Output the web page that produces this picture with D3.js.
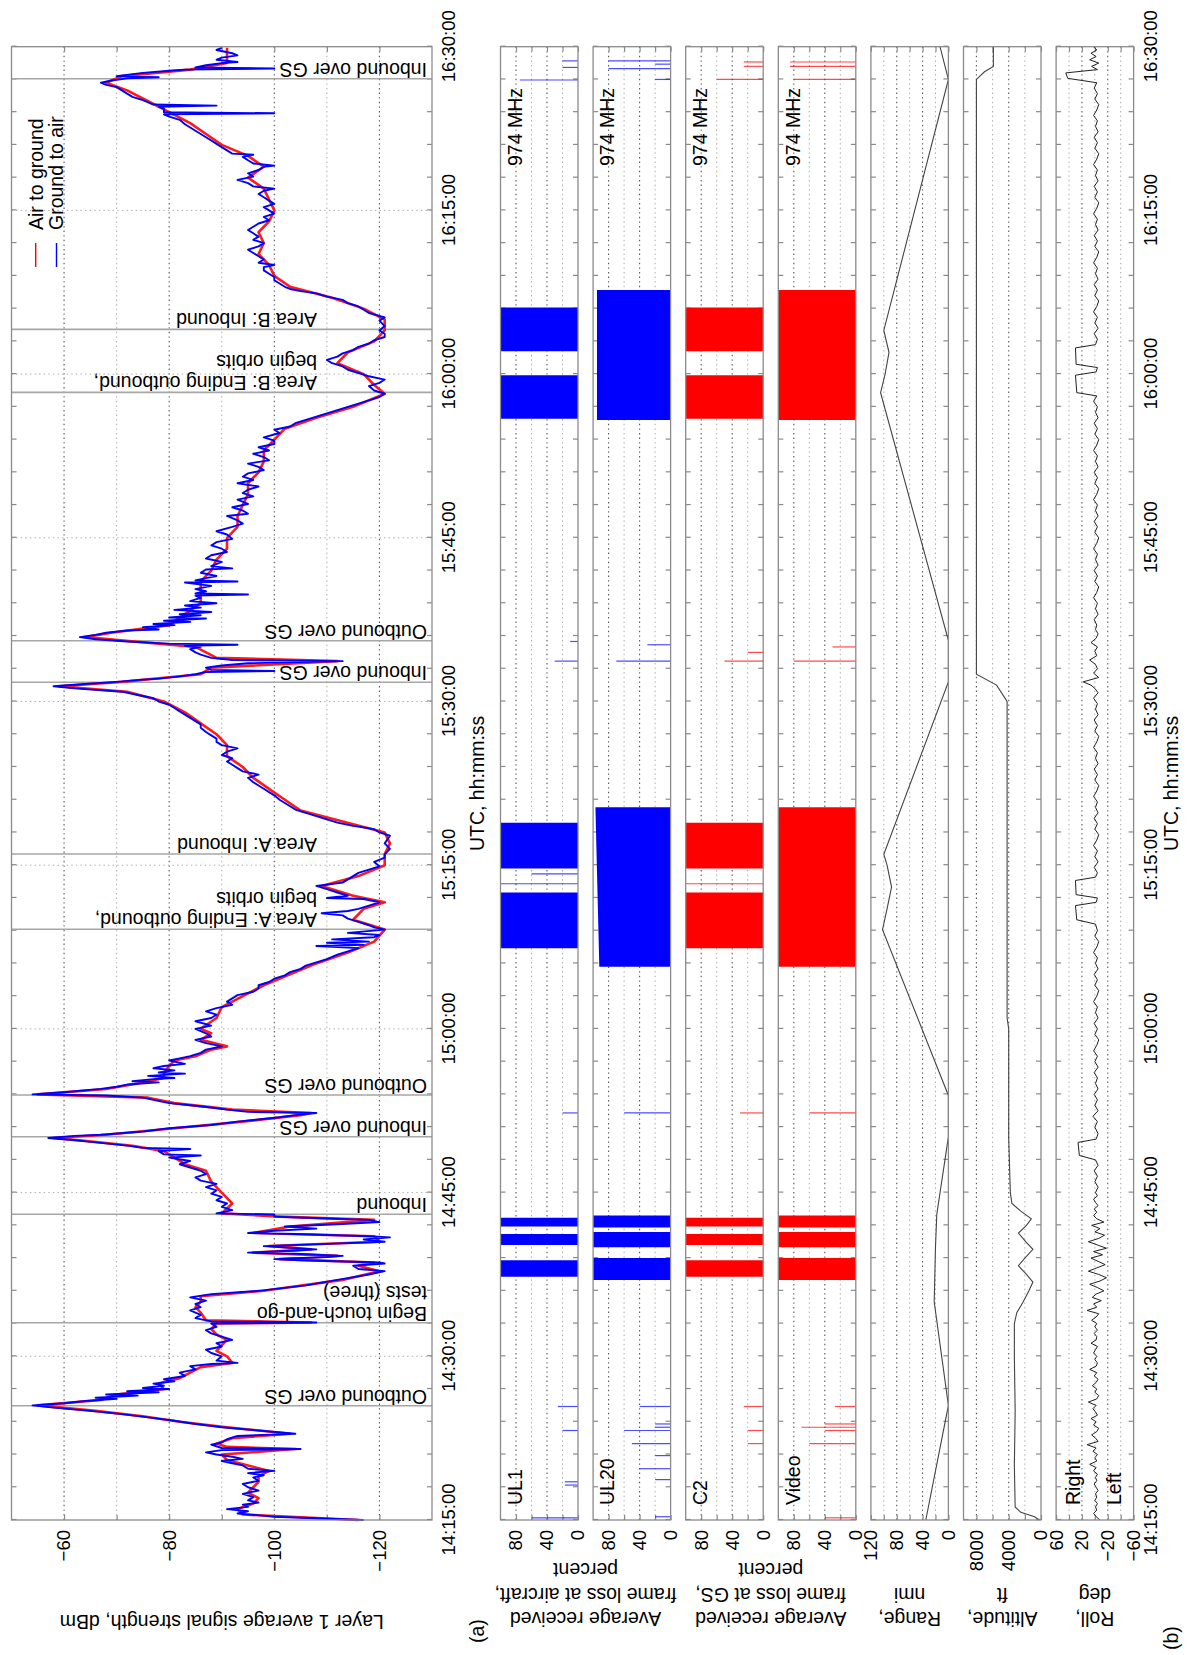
<!DOCTYPE html>
<html lang="en">
<head>
<meta charset="UTF-8">
<title>layer 1 signal strength and frame loss</title>
<script src="https://d3js.org/d3.v7.min.js"></script>
<style>
    body { margin: 0; background: #fff; }
    svg { display: block; font-family: "Liberation Sans", Arial, Helvetica, sans-serif; }
    .box { fill: none; stroke: #8a8a8a; stroke-width: 1.3; }
    .tick line { stroke: #8a8a8a; stroke-width: 1.2; }
    .tick text { font-size: 18.5px; fill: #000; }
    .grid-major { stroke: #555; stroke-dasharray: 1.4 3.2; stroke-width: 1.1; }
    .grid-minor { stroke: #aaa; stroke-dasharray: 1.4 3.2; stroke-width: 1; }
    .event { stroke: #a6a6a6; stroke-width: 1.6; }
    .label { font-size: 19.5px; fill: #000; }
</style>
</head>
<body>
<div id="chart"></div>
<script>
// time is in minutes after 14:15:00 UTC
const timeLabels = ['14:15:00', '14:30:00', '14:45:00', '15:00:00', '15:15:00', '15:30:00', '15:45:00', '16:00:00', '16:15:00', '16:30:00']

// layer 1 average signal strength, dBm
const groundToAir = [[0,-117],[0.3,-100],[0.6,-93],[0.8,-95],[1,-91],[1.2,-95],[1.4,-94],[1.6,-97],[1.8,-95],[2.1,-96],[2.4,-94],[2.7,-97],[3,-95],[3.3,-94],[3.6,-97],[3.9,-96],[4.1,-98],[4.3,-95],[4.5,-100],[4.7,-95],[5,-94],[5.2,-92],[5.4,-90],[5.6,-94],[5.8,-92],[6,-89],[6.2,-87],[6.4,-90],[6.5,-105],[6.6,-90],[6.9,-88],[7.1,-90],[7.4,-91],[7.7,-93],[7.8,-98],[7.9,-104],[8.2,-97],[8.5,-90],[8.8,-85],[9.1,-81],[9.4,-76],[9.7,-71],[10,-65],[10.3,-58],[10.5,-54],[10.7,-60],[10.9,-64],[11.1,-70],[11.2,-66],[11.4,-74],[11.5,-68],[11.7,-78],[11.8,-72],[12,-80],[12.1,-75],[12.3,-79],[12.5,-77],[12.7,-81],[12.9,-79],[13.2,-83],[13.5,-82],[13.8,-85],[14.1,-84],[14.3,-88],[14.4,-93],[14.6,-89],[15,-90],[15.3,-88],[15.6,-87],[15.9,-90],[16.2,-89],[16.5,-92],[16.8,-90],[17.1,-88],[17.4,-87],[17.7,-89],[18,-88],[18.1,-108],[18.2,-88],[18.5,-85],[18.8,-86],[19.2,-84],[19.5,-86],[19.8,-85],[20.1,-87],[20.4,-84],[20.7,-88],[21,-97],[21.5,-106],[22,-112],[22.5,-118],[22.8,-121],[23,-116],[23.3,-115],[23.5,-121],[23.6,-120],[23.8,-105],[23.9,-100],[24.1,-110],[24.2,-113],[24.4,-104],[24.5,-95],[24.7,-104],[24.8,-108],[25,-101],[25.1,-98],[25.3,-110],[25.5,-121],[25.7,-117],[25.9,-122],[26,-118],[26.2,-104],[26.3,-95],[26.5,-100],[26.7,-108],[26.9,-102],[27.1,-112],[27.3,-120],[27.5,-118],[27.7,-106],[27.8,-100],[28,-100],[28.1,-89],[28.4,-92],[28.7,-90],[29,-91],[29.3,-89],[29.6,-90],[29.9,-88],[30.2,-89],[30.5,-87],[30.8,-89],[31.1,-86],[31.4,-85],[31.7,-87],[32,-86],[32.3,-84],[32.6,-82],[32.9,-84],[33.2,-80],[33.4,-86],[33.5,-79],[33.8,-78],[34,-84],[34.1,-75],[34.3,-72],[34.6,-66],[34.8,-62],[35,-57],[35.2,-62],[35.3,-67],[35.6,-75],[35.9,-80],[36.2,-88],[36.5,-93],[36.7,-97],[36.9,-101],[37.1,-104],[37.3,-108],[37.4,-95],[37.6,-91],[37.8,-88],[38,-84],[38.2,-80],[38.5,-77],[38.7,-75],[38.9,-68],[39,-54],[39.2,-60],[39.5,-67],[39.7,-70],[39.9,-72],[40.1,-78],[40.2,-73],[40.4,-77],[40.5,-81],[40.7,-76],[40.9,-83],[41,-78],[41.2,-81],[41.4,-77],[41.6,-79],[41.8,-83],[42.1,-80],[42.3,-82],[42.5,-84],[42.8,-86],[43.1,-87],[43.4,-90],[43.7,-87],[44,-85],[44.3,-88],[44.6,-87],[45,-85],[45.3,-88],[45.7,-85],[46,-88],[46.3,-89],[46.6,-87],[46.9,-89],[47.2,-92],[47.5,-91],[47.8,-92],[48.1,-93],[48.4,-96],[48.7,-97],[49,-97],[49.3,-99],[49.6,-100],[49.9,-102],[50.2,-103],[50.5,-105],[50.8,-106],[51.1,-108],[51.4,-110],[51.8,-112],[52.1,-114],[52.4,-116],[52.6,-108],[52.7,-117],[52.9,-110],[53,-118],[53.2,-111],[53.4,-119],[53.6,-120],[53.8,-114],[54.1,-121],[54.3,-119],[54.5,-118],[54.8,-116],[55.1,-114],[55.4,-113],[55.6,-109],[55.8,-114],[56,-116],[56.3,-118],[56.6,-120],[56.9,-117],[57,-110],[57.2,-114],[57.5,-112],[57.8,-110],[58.1,-108],[58.4,-113],[58.7,-114],[59,-115],[59.3,-116],[59.6,-118],[59.9,-120],[60.3,-119],[60.7,-121],[61,-121],[61.5,-122],[62,-121],[62.7,-122],[63,-120],[63.3,-119],[63.6,-115],[63.9,-112],[64.2,-110],[64.5,-108],[64.8,-106],[65.1,-104],[65.4,-103],[65.7,-102],[66,-101],[66.4,-100],[66.7,-99],[67,-98],[67.3,-97],[67.6,-96],[68,-95],[68.3,-97],[68.6,-94],[68.9,-93],[69.2,-92],[69.5,-91],[69.8,-92],[70.1,-90],[70.4,-91],[70.7,-93],[71,-90],[71.3,-89],[71.6,-89],[71.9,-88],[72.2,-87],[72.6,-86],[72.9,-86],[73.2,-85],[73.5,-84],[73.8,-83],[74.1,-82],[74.4,-81],[74.7,-80],[75,-78],[75.3,-77],[75.6,-74],[75.9,-71],[76.2,-62],[76.4,-58],[76.6,-64],[76.8,-70],[77,-75],[77.1,-78],[77.3,-82],[77.5,-85],[77.7,-87],[77.8,-100],[77.9,-88],[78.1,-87],[78.3,-90],[78.5,-95],[78.7,-113],[78.8,-92],[79,-88],[79.3,-86],[79.5,-85],[79.8,-84],[80,-86],[80.1,-83],[80.2,-93],[80.3,-80],[80.5,-72],[80.7,-66],[80.9,-63],[81.1,-66],[81.3,-68],[81.5,-72],[81.6,-78],[81.8,-75],[82,-81],[82.1,-77],[82.3,-84],[82.4,-79],[82.6,-87],[82.7,-80],[82.9,-86],[83,-82],[83.2,-88],[83.4,-81],[83.6,-86],[83.8,-83],[84,-89],[84.2,-84],[84.5,-86],[84.7,-85],[84.8,-95],[84.9,-85],[85.1,-87],[85.3,-85],[85.6,-88],[85.9,-83],[86,-93],[86.1,-85],[86.3,-87],[86.5,-89],[86.8,-86],[87.1,-87],[87.2,-92],[87.4,-88],[87.8,-90],[88.1,-87],[88.4,-88],[88.7,-91],[89,-90],[89.3,-88],[89.6,-89],[89.9,-92],[90.3,-91],[90.6,-89],[91,-92],[91.3,-94],[91.6,-93],[92,-91],[92.2,-95],[92.5,-94],[92.8,-92],[93.1,-95],[93.5,-93],[93.8,-96],[94.1,-94],[94.4,-95],[94.7,-97],[95,-93],[95.3,-96],[95.6,-94],[95.9,-95],[96.2,-98],[96.5,-97],[96.8,-95],[97.1,-99],[97.4,-98],[97.7,-96],[98,-99],[98.3,-97],[98.6,-100],[98.9,-100],[99.2,-98],[99.6,-101],[99.9,-100],[100.2,-103],[100.5,-104],[100.8,-106],[101.1,-108],[101.4,-110],[101.7,-112],[102,-114],[102.3,-116],[102.6,-118],[102.9,-120],[103.2,-121],[103.5,-119],[103.9,-118],[104.2,-120],[104.5,-121],[104.8,-118],[105.1,-116],[105.4,-114],[105.7,-113],[106,-111],[106.3,-110],[106.6,-112],[106.9,-113],[107.2,-115],[107.5,-116],[107.8,-118],[108.1,-119],[108.4,-121],[108.7,-121],[109,-120],[109.4,-121],[109.9,-120],[110.2,-121],[110.6,-118],[110.9,-117],[111.2,-116],[111.5,-114],[111.8,-113],[112.1,-110],[112.4,-108],[112.6,-105],[112.8,-103],[113,-102],[113.3,-101],[113.6,-100],[113.9,-100],[114.2,-99],[114.5,-98],[114.8,-98],[115,-100],[115.2,-97],[115.5,-98],[115.8,-97],[116.1,-96],[116.4,-95],[116.7,-97],[117,-98],[117.3,-96],[117.6,-97],[117.9,-96],[118.2,-95],[118.5,-96],[118.8,-97],[119.1,-99],[119.4,-98],[119.7,-100],[120,-99],[120.3,-98],[120.6,-100],[120.9,-99],[121.2,-98],[121.5,-97],[121.8,-98],[122,-100],[122.2,-96],[122.5,-95],[122.8,-93],[123.1,-96],[123.4,-95],[123.7,-97],[124,-98],[124.1,-100],[124.3,-96],[124.6,-95],[124.9,-94],[125.1,-96],[125.2,-92],[125.5,-91],[125.8,-90],[126.1,-89],[126.4,-88],[126.7,-87],[127,-86],[127.3,-85],[127.6,-84],[127.9,-83],[128.3,-82],[128.6,-80],[128.8,-79],[128.9,-100],[129,-79],[129.3,-79],[129.5,-78],[129.6,-89],[129.7,-77],[130.1,-75],[130.4,-73],[130.7,-72],[131,-71],[131.3,-70],[131.5,-68],[131.7,-67],[131.9,-69],[132.1,-72],[132.2,-78],[132.3,-70],[132.6,-75],[132.8,-80],[132.9,-83],[133,-100],[133.1,-85],[133.3,-87],[133.5,-90],[133.6,-93],[133.8,-89],[134,-90],[134.2,-93],[134.4,-92],[134.7,-89],[134.9,-90]]

const airToGround = [[0,-116],[0.5,-94],[1,-93],[1.5,-96],[2,-97],[2.5,-95],[3,-96],[3.5,-97],[4,-97],[4.5,-99],[5,-95],[5.5,-91],[6,-90],[6.5,-104],[6.7,-91],[7,-89],[7.5,-92],[7.9,-103],[8.5,-91],[9,-82],[9.5,-75],[10,-66],[10.5,-55],[11,-67],[11.5,-70],[12,-79],[12.5,-78],[13,-82],[13.5,-84],[14,-86],[14.4,-92],[15,-91],[15.5,-89],[16,-90],[16.5,-91],[17,-89],[17.5,-88],[18,-89],[18.1,-107],[18.3,-87],[19,-86],[19.5,-85],[20,-86],[20.5,-86],[21,-98],[22,-113],[22.8,-120],[23.3,-116],[23.6,-119],[23.9,-101],[24.2,-112],[24.5,-96],[24.8,-107],[25.1,-99],[25.5,-120],[26,-119],[26.3,-96],[26.9,-103],[27.5,-119],[27.8,-101],[28.1,-90],[29,-92],[30,-90],[31,-88],[32,-87],[32.6,-83],[33.2,-81],[33.8,-79],[34.3,-73],[34.8,-63],[35,-58],[35.3,-68],[35.9,-81],[36.5,-94],[37.1,-105],[37.3,-107],[37.6,-92],[38.2,-81],[38.7,-76],[39,-55],[39.5,-68],[40,-74],[40.5,-79],[41,-79],[41.6,-80],[42.1,-81],[42.5,-85],[43.1,-88],[43.4,-91],[44,-86],[44.6,-88],[45,-86],[46,-89],[47,-90],[48,-94],[49,-98],[50,-103],[51,-108],[52,-114],[53,-119],[54.1,-121],[55,-115],[56,-117],[56.6,-121],[57.2,-115],[58.1,-109],[59,-116],[60,-121],[61,-121],[62,-122],[63,-121],[64,-113],[65,-105],[66,-102],[67,-99],[68,-96],[69,-94],[70,-91],[71,-91],[72,-89],[73,-86],[74,-83],[75,-79],[75.9,-72],[76.4,-59],[76.8,-71],[77.5,-86],[78.1,-88],[78.7,-112],[79,-89],[80,-85],[80.9,-64],[81.3,-69],[82,-80],[83,-83],[84,-86],[85,-86],[86,-86],[87,-88],[88,-89],[89,-91],[90,-91],[91,-93],[92,-93],[93,-94],[94,-95],[95,-95],[96,-97],[97,-98],[98,-98],[99,-100],[100,-102],[101,-108],[102,-115],[103.2,-121],[104,-119],[105,-117],[106,-112],[107,-114],[108,-119],[109,-121],[110,-121],[111,-117],[112,-111],[113,-103],[114,-100],[115,-99],[116,-97],[117,-98],[118,-97],[119,-99],[120,-100],[121,-99],[122,-98],[123,-95],[124,-98],[125,-95],[126,-90],[127,-87],[128,-84],[129,-80],[130,-76],[131,-72],[131.7,-68],[132.3,-71],[132.9,-84],[133.5,-91],[134,-91],[134.9,-91]]

// events marked in panel (a): [minute, label lines]
const gsEvents = [[10.47, ['Outbound over GS']], [18.08, ['Begin touch-and-go', 'tests (three)']], [28.01, ['Inbound']], [35.12, ['Inbound over GS']], [38.94, ['Outbound over GS']], [76.76, ['Inbound over GS']], [80.57, ['Outbound over GS']], [132.07, ['Inbound over GS']]]
const areaEvents = [[54.13, ['Area A: Ending outbound,', 'begin orbits']], [61.03, ['Area A: Inbound']], [103.33, ['Area B: Ending outbound,', 'begin orbits']], [109.1, ['Area B: Inbound']]]

// average received frame loss, percent: blocks [from, to, % at from, % at to] and single samples [minute, %]
const ul1Blocks = [[22.3, 23.8, 100, 100], [25.2, 26.2, 100, 100], [26.9, 27.7, 100, 100], [52.4, 57.5, 100, 100], [59.7, 63.9, 100, 100], [100.9, 104.9, 100, 100], [107.1, 111.1, 100, 100]]
const ul1Spikes = [[0.2, 60], [3.2, 17], [3.5, 17], [8.2, 20], [10.4, 26], [37.3, 20], [58.3, 100], [59.2, 60], [78.7, 30], [80.5, 10], [131.95, 75], [133.1, 20], [133.7, 20]]
const ul20Blocks = [[22, 24, 100, 100], [25, 26.4, 100, 100], [26.8, 27.9, 100, 100], [50.7, 65.3, 92, 97], [100.8, 112.7, 95, 95]]
const ul20Spikes = [[0.3, 20], [3.7, 20], [4.7, 40], [5.9, 20], [7, 50], [8.2, 60], [8.5, 20], [8.8, 20], [10.4, 40], [37.3, 60], [78.7, 70], [80.2, 30], [132, 20], [133, 80], [133.4, 20], [133.7, 80]]
const c2Blocks = [[22.3, 23.8, 100, 100], [25.2, 26.2, 100, 100], [26.9, 27.7, 100, 100], [52.4, 57.5, 100, 100], [59.7, 63.9, 100, 100], [100.9, 104.9, 100, 100], [107.1, 111.1, 100, 100]]
const c2Spikes = [[7, 20], [8.2, 20], [10.4, 25], [37.3, 30], [58.3, 100], [78.7, 50], [79.5, 20], [132, 60], [133.2, 25], [133.6, 25]]
const videoBlocks = [[22, 24, 100, 100], [25, 26.4, 100, 100], [26.8, 27.9, 100, 100], [50.7, 65.3, 100, 100], [100.8, 112.7, 100, 100]]
const videoSpikes = [[0.2, 40], [7, 60], [8.2, 40], [8.5, 70], [8.8, 40], [10.4, 27], [37.3, 60], [78.7, 80], [80, 30], [132, 80], [133.2, 85], [133.6, 85]]

// range, nmi
const range = [[0, 35], [10.5, 0], [20, 22], [25, 20], [28, 18], [35.1, 0], [38.9, 0], [54.1, 102], [56, 95], [58, 88], [60, 95], [61, 100], [76.8, 0], [80.6, 0], [103.3, 105], [105, 98], [107, 92], [109, 100], [132, 0], [135, 13]]
// altitude, ft
const altitude = [[0, 200], [0.3, 800], [0.7, 2500], [1.2, 3200], [5, 3300], [10, 3200], [15, 3300], [18, 3300], [19, 3000], [20, 2200], [21, 1500], [21.8, 1000], [22.5, 1800], [23.3, 2800], [24, 2000], [24.8, 1000], [25.5, 1900], [26.3, 2800], [27, 1800], [27.6, 1200], [28.3, 2500], [29, 3600], [30, 3800], [35, 4000], [45, 4000], [46, 4200], [75, 4200], [76.5, 5500], [77.5, 8000], [132, 8000], [132.7, 7000], [133.2, 5900], [135, 5900]]
// roll, deg
const roll = [[0,-8],[0.3,-2],[0.6,2],[0.9,-3],[1.2,-1],[1.5,-4],[1.8,0],[2.1,-3],[2.4,-1],[2.7,-5],[3,-2],[3.3,1],[3.6,-3],[3.9,-1],[4.2,-4],[4.5,2],[4.8,-2],[5.1,8],[5.4,-3],[5.7,0],[6,-4],[6.3,3],[6.6,-2],[6.9,12],[7.2,-5],[7.5,-1],[7.8,5],[8.1,-3],[8.4,-6],[8.7,2],[9,-2],[9.3,6],[9.6,-4],[9.9,-1],[10.2,3],[10.5,-2],[10.8,10],[11.1,-3],[11.4,-6],[11.7,0],[12,-3],[12.3,4],[12.6,-2],[12.9,-5],[13.2,1],[13.5,-3],[13.8,8],[14.1,-2],[14.4,-4],[14.7,0],[15,-3],[15.3,2],[15.6,-1],[15.9,-4],[16.2,6],[16.5,-2],[16.8,-3],[17.1,1],[17.4,-4],[17.7,0],[18,-3],[18.3,5],[18.6,-2],[18.9,-6],[19.2,12],[19.5,-3],[19.8,2],[20.1,-10],[20.4,4],[20.7,-2],[21,-14],[21.3,-4],[21.6,8],[21.9,-8],[22.2,-18],[22.5,-6],[22.8,10],[23.1,-3],[23.4,-16],[23.7,-5],[24,6],[24.3,-12],[24.6,2],[24.9,-18],[25.2,-4],[25.5,10],[25.8,-6],[26.1,-15],[26.4,0],[26.7,-8],[27,5],[27.3,-14],[27.6,-3],[27.9,2],[28.2,-3],[28.5,1],[28.8,-5],[29.1,-1],[29.4,2],[29.7,-4],[30,-1],[30.5,-5],[31,0],[31.5,-4],[32,1],[32.5,-5],[33,-1],[33.4,24],[34.6,26],[34.9,-2],[35.4,-5],[36,0],[36.5,-4],[37,3],[37.5,-5],[38,0],[38.5,-4],[39,1],[39.5,-5],[40,-1],[40.5,-4],[41,1],[41.5,-5],[42,0],[42.5,-4],[43,2],[43.5,-3],[44,-6],[44.5,0],[45,-4],[45.5,1],[46,-5],[46.5,-1],[47,-4],[47.5,2],[48,-3],[48.5,-6],[49,0],[49.5,-4],[50,1],[50.5,-5],[51,-1],[51.5,-4],[52,2],[52.5,-3],[53,-6],[53.5,0],[54,-4],[54.6,-1],[55,28],[56.3,30],[56.6,-2],[57,-4],[57.3,29],[58.6,30],[58.9,-1],[59.3,-4],[59.8,1],[60.3,-5],[60.8,0],[61.3,-4],[61.8,2],[62.3,-3],[62.8,-6],[63.3,0],[63.8,-4],[64.3,1],[64.8,-5],[65.3,-1],[65.8,-4],[66.3,2],[66.8,-3],[67.3,-6],[67.8,0],[68.3,-4],[68.8,1],[69.3,-5],[69.8,-1],[70.3,-4],[70.8,2],[71.3,-3],[71.8,-6],[72.3,0],[72.8,-4],[73.3,1],[73.8,-5],[74.3,-1],[74.8,-4],[75.3,2],[75.8,-5],[76.2,0],[76.5,6],[76.8,18],[77.2,-6],[77.6,2],[78,-4],[78.4,-1],[78.8,8],[79.2,-3],[79.6,0],[80,-4],[80.4,6],[80.8,-2],[81.2,-5],[81.6,-1],[82,-3],[82.5,1],[83,-5],[83.5,-1],[84,-4],[84.5,2],[85,-3],[85.5,-6],[86,0],[86.5,-4],[87,1],[87.5,-5],[88,-1],[88.5,-4],[89,2],[89.5,-3],[90,-6],[90.5,0],[91,-4],[91.5,1],[92,-5],[92.5,-1],[93,-4],[93.5,2],[94,-3],[94.5,-6],[95,0],[95.5,-4],[96,1],[96.5,-5],[97,-1],[97.5,-4],[98,2],[98.5,-3],[99,-6],[99.5,0],[100,-4],[100.5,1],[101,-5],[101.5,-1],[102,-4],[102.5,2],[103,-3],[103.3,28],[104.9,30],[105.2,-2],[105.6,-4],[105.9,29],[107.4,30],[107.7,-1],[108.2,-4],[108.7,1],[109.2,-5],[109.7,0],[110.2,-4],[110.7,2],[111.2,-3],[111.7,-6],[112.2,0],[112.7,-4],[113.2,1],[113.7,-5],[114.2,-1],[114.7,-4],[115.2,2],[115.7,-3],[116.2,-6],[116.7,0],[117.2,-4],[117.7,1],[118.2,-5],[118.7,-1],[119.2,-4],[119.7,2],[120.2,-3],[120.7,-6],[121.2,0],[121.7,-4],[122.2,1],[122.7,-5],[123.2,-1],[123.7,-4],[124.2,2],[124.7,-3],[125.2,-6],[125.7,0],[126.2,-4],[126.7,1],[127.2,-5],[127.7,-1],[128.2,-4],[128.7,2],[129.2,-3],[129.7,-6],[130.2,0],[130.7,-4],[131.2,1],[131.7,-3],[132.1,42],[132.6,45],[132.9,-4],[133.2,5],[133.5,-6],[133.8,8],[134.1,-2],[134.4,6],[134.7,-3],[135,2]]

const W = 1195
const H = 1655

const svg = d3.select('#chart').append('svg')
    .attr('width', W)
    .attr('height', H)

// the figure is laid out landscape and turned a quarter turn
const g = svg.append('g').attr('transform', `translate(0,${H}) rotate(-90)`)

const x = d3.scaleLinear().domain([0, 135]).range([135, 1608.3])
const [X0, X1] = x.range()
const minorTimes = d3.range(0, 136, 3)
const majorTimes = d3.range(0, 136, 15)
const timeFormat = t => t % 15 === 0 ? timeLabels[t / 15] : ''

function makePanel(top, bottom, domain, cfg) {
    const y = d3.scaleLinear().domain(domain).range([bottom, top])
    const p = g.append('g')

    cfg.grid.forEach(v => {
        p.append('line')
            .attr('class', cfg.labels.includes(v) ? 'grid-major' : 'grid-minor')
            .attr('x1', X0).attr('x2', X1)
            .attr('y1', y(v)).attr('y2', y(v))
    })
    if (cfg.timeGrid) {
        majorTimes.slice(1, -1).forEach(t => {
            p.append('line').attr('class', 'grid-minor')
                .attr('x1', x(t)).attr('x2', x(t))
                .attr('y1', top).attr('y2', bottom)
        })
    }

    const fmt = d3.format('d')
    p.append('g').attr('transform', `translate(${X0},0)`)
        .call(d3.axisLeft(y).tickValues(cfg.ticks)
            .tickFormat(v => cfg.labels.includes(v) ? fmt(v) : '')
            .tickSizeInner(-5).tickSizeOuter(0).tickPadding(10))
        .call(a => a.select('.domain').remove())
    p.append('g').attr('transform', `translate(${X1},0)`)
        .call(d3.axisRight(y).tickValues(cfg.ticks).tickFormat('')
            .tickSizeInner(-5).tickSizeOuter(0))
        .call(a => a.select('.domain').remove())
    p.append('g').attr('transform', `translate(0,${bottom})`)
        .call(d3.axisBottom(x).tickValues(minorTimes)
            .tickFormat(cfg.timeLabels ? timeFormat : '')
            .tickSizeInner(-5).tickSizeOuter(0).tickPadding(10))
        .call(a => a.select('.domain').remove())
    p.append('g').attr('transform', `translate(0,${top})`)
        .call(d3.axisTop(x).tickValues(minorTimes).tickFormat('')
            .tickSizeInner(-5).tickSizeOuter(0))
        .call(a => a.select('.domain').remove())

    const marks = p.append('g')
    p.append('rect').attr('class', 'box')
        .attr('x', X0).attr('y', top)
        .attr('width', X1 - X0).attr('height', bottom - top)

    // y label, several lines, first line farthest out
    const mid = (top + bottom) / 2
    cfg.title.forEach((line, i) => {
        p.append('text').attr('class', 'label')
            .attr('transform', `translate(${cfg.titleAt + i * 24.5},${mid}) rotate(-90)`)
            .attr('text-anchor', 'middle')
            .text(line)
    })
    return { y, marks, top, bottom }
}

// panel (a)
const pa = makePanel(11.5, 432, [-130, -50], {
    grid: [-60, -70, -80, -90, -100, -110, -120],
    ticks: [-60, -70, -80, -90, -100, -110, -120],
    labels: [-60, -80, -100, -120],
    timeGrid: true,
    timeLabels: true,
    title: ['Layer 1 average signal strength, dBm'],
    titleAt: 40
})

const sigLine = d3.line().x(d => x(d[0])).y(d => pa.y(d[1]))

const eventGroup = pa.marks.append('g')
gsEvents.concat(areaEvents).forEach(([t]) => {
    eventGroup.append('line').attr('class', 'event')
        .attr('x1', x(t)).attr('x2', x(t))
        .attr('y1', pa.top).attr('y2', pa.bottom)
})

pa.marks.append('path').datum(airToGround)
    .attr('d', sigLine).attr('fill', 'none')
    .attr('stroke', '#ff1a1a').attr('stroke-width', 2.6).attr('stroke-linejoin', 'round')
pa.marks.append('path').datum(groundToAir)
    .attr('d', sigLine).attr('fill', 'none')
    .attr('stroke', '#0000ff').attr('stroke-width', 1.9).attr('stroke-linejoin', 'round')

function eventLabels(list, startAt) {
    list.forEach(([t, lines]) => {
        lines.forEach((line, i) => {
            eventGroup.append('text').attr('class', 'label')
                .attr('transform', `translate(${x(t) + 16 + i * 21},${startAt}) rotate(-90)`)
                .text(line)
        })
    })
}
eventLabels(gsEvents, 427)
eventLabels(areaEvents, 317)

// legend
const legend = pa.marks.append('g')
;[['Air to ground', '#ff0000', 35.7], ['Ground to air', '#0000ff', 56.5]].forEach(([name, color, at]) => {
    legend.append('line').attr('x1', 1388).attr('x2', 1412).attr('y1', at).attr('y2', at)
        .attr('stroke', color).attr('stroke-width', 1.4)
    legend.append('text').attr('class', 'label').attr('x', 1425).attr('y', at).attr('dy', '0.35em').text(name)
})

// frame loss panels
const framePanels = [
    { name: 'UL1', blocks: ul1Blocks, spikes: ul1Spikes, color: '#0000ff' },
    { name: 'UL20', blocks: ul20Blocks, spikes: ul20Spikes, color: '#0000ff' },
    { name: 'C2', blocks: c2Blocks, spikes: c2Spikes, color: '#ff0000' },
    { name: 'Video', blocks: videoBlocks, spikes: videoSpikes, color: '#ff0000' }
]
const LEFT0 = 500.5
const STEP = 92.6
const PW = 77.5

framePanels.forEach((fp, i) => {
    const top = LEFT0 + i * STEP
    const titles = {
        0: ['Average received', 'frame loss at aircraft,', 'percent'],
        2: ['Average received', 'frame loss at GS,', 'percent']
    }
    const pp = makePanel(top, top + PW, [0, 100], {
        grid: [20, 40, 60, 80],
        ticks: [0, 20, 40, 60, 80],
        labels: [0, 40, 80],
        title: [],
        titleAt: 43
    })
    if (titles[i]) {
        const mid = top + (STEP + PW) / 2
        titles[i].forEach((line, k) => {
            g.append('text').attr('class', 'label')
                .attr('transform', `translate(${43 + k * 24.5},${mid}) rotate(-90)`)
                .attr('text-anchor', 'middle').text(line)
        })
    }
    pp.marks.selectAll('.block').data(fp.blocks).enter().append('path')
        .attr('fill', fp.color)
        .attr('d', d => `M${x(d[0])},${pp.y(0)}L${x(d[0])},${pp.y(d[2])}L${x(d[1])},${pp.y(d[3])}L${x(d[1])},${pp.y(0)}Z`)
    pp.marks.selectAll('.spike').data(fp.spikes).enter().append('line')
        .attr('stroke', fp.color).attr('stroke-width', 1.2).attr('opacity', 0.7)
        .attr('x1', d => x(d[0])).attr('x2', d => x(d[0]))
        .attr('y1', pp.y(0)).attr('y2', d => pp.y(d[1]))
    pp.marks.append('text').attr('class', 'label').attr('x', 150).attr('y', top + 21.3).text(fp.name)
    pp.marks.append('text').attr('class', 'label').attr('x', 1567).attr('y', top + 21.3)
        .attr('text-anchor', 'end').text('974 MHz')
})

// range
const rTop = LEFT0 + 4 * STEP
const pr = makePanel(rTop, rTop + PW, [0, 120], {
    grid: [20, 40, 60, 80, 100],
    ticks: [0, 20, 40, 60, 80, 100, 120],
    labels: [0, 40, 80, 120],
    title: ['Range,', 'nmi'],
    titleAt: 43
})
pr.marks.append('path').datum(range)
    .attr('d', d3.line().x(d => x(d[0])).y(d => pr.y(d[1])))
    .attr('fill', 'none').attr('stroke', '#444').attr('stroke-width', 1.1)

// altitude
const aTop = LEFT0 + 5 * STEP
const pal = makePanel(aTop, aTop + PW, [0, 9600], {
    grid: [2000, 4000, 6000, 8000],
    ticks: [0, 2000, 4000, 6000, 8000],
    labels: [0, 4000, 8000],
    title: ['Altitude,', 'ft'],
    titleAt: 43
})
pal.marks.append('path').datum(altitude)
    .attr('d', d3.line().x(d => x(d[0])).y(d => pal.y(d[1])))
    .attr('fill', 'none').attr('stroke', '#444').attr('stroke-width', 1.1)

// roll
const roTop = LEFT0 + 6 * STEP
const pro = makePanel(roTop, roTop + PW, [-60, 60], {
    grid: [-40, -20, 0, 20, 40],
    ticks: [-60, -40, -20, 0, 20, 40, 60],
    labels: [-60, -20, 20, 60],
    timeLabels: true,
    title: ['Roll,', 'deg'],
    titleAt: 43
})
pro.marks.append('path').datum(roll)
    .attr('d', d3.line().x(d => x(d[0])).y(d => pro.y(d[1])))
    .attr('fill', 'none').attr('stroke', '#222').attr('stroke-width', 1)
pro.marks.append('text').attr('class', 'label').attr('x', 150).attr('y', pro.y(20) - 2).text('Right')
pro.marks.append('text').attr('class', 'label').attr('x', 150).attr('y', pro.y(-20) + 13).text('Left')

// time axis titles and figure letters
;[484, 1178].forEach(v => {
    g.append('text').attr('class', 'label').attr('x', x(67.5)).attr('y', v)
        .attr('text-anchor', 'middle').text('UTC, hh:mm:ss')
})
g.append('text').attr('class', 'label').attr('x', 12).attr('y', 484).text('(a)')
g.append('text').attr('class', 'label').attr('x', 5).attr('y', 1178).text('(b)')
</script>
</body>
</html>
